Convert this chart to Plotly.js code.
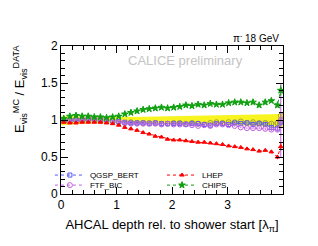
<!DOCTYPE html>
<html><head><meta charset="utf-8">
<script src="https://cdn.plot.ly/plotly-3.0.1.min.js"></script>
<style>html,body{margin:0;padding:0;background:#fff;}#chart{width:318px;height:246px;}</style>
</head><body><div id="chart"></div>
<script>
const depth = [0.05,0.16,0.27,0.38,0.49,0.60,0.71,0.82,0.93,1.04,1.15,1.26,1.37,1.48,1.59,1.70,1.81,1.92,2.03,2.14,2.25,2.36,2.47,2.58,2.69,2.80,2.91,3.02,3.13,3.24,3.35,3.46,3.57,3.68,3.79,3.90,3.96];
const qgspBert = [1.00,0.99,1.00,1.00,1.01,1.01,1.00,1.00,0.99,0.98,0.97,0.96,0.96,0.96,0.95,0.96,0.95,0.95,0.95,0.95,0.94,0.95,0.95,0.94,0.93,0.95,0.95,0.94,0.96,0.95,0.96,0.94,0.95,0.94,0.90,0.89,0.97];
const ftfBic = [0.99,1.00,1.01,1.01,1.02,1.02,1.02,1.01,0.99,0.97,0.96,0.95,0.95,0.95,0.95,0.95,0.94,0.95,0.94,0.94,0.94,0.93,0.92,0.93,0.92,0.94,0.94,0.93,0.92,0.90,0.89,0.89,0.89,0.88,0.87,0.87,1.00];
const lhep = [0.97,0.96,0.96,0.97,0.97,0.97,0.97,0.96,0.95,0.93,0.90,0.88,0.86,0.83,0.81,0.78,0.77,0.74,0.73,0.73,0.72,0.71,0.70,0.70,0.69,0.68,0.67,0.65,0.64,0.63,0.61,0.60,0.58,0.59,0.57,0.50,0.64];
const chips = [1.02,1.05,1.06,1.05,1.05,1.04,1.04,1.03,1.04,1.05,1.08,1.10,1.12,1.14,1.15,1.16,1.17,1.16,1.17,1.18,1.20,1.19,1.21,1.20,1.22,1.21,1.21,1.23,1.24,1.24,1.23,1.24,1.20,1.24,1.26,1.20,1.40];
const other = [1.00,1.00,1.00,0.99,1.00,1.00,0.99,0.99,0.98,0.97,0.96,0.97,0.96,0.96,0.96,0.96,0.95,0.95,0.96,0.96,0.95,0.96,0.95,0.94,0.96,0.97,0.96,0.97,0.97,0.98,0.96,0.97,0.96,0.96,0.95,0.96,1.06];
const errSmall = [0.01,0.01,0.01,0.01,0.01,0.01,0.01,0.01,0.01,0.01,0.01,0.01,0.01,0.01,0.01,0.01,0.01,0.01,0.01,0.01,0.01,0.01,0.01,0.01,0.01,0.01,0.01,0.01,0.01,0.01,0.01,0.015,0.015,0.02,0.02,0.03,0.05];
const errFtf = [0.01,0.01,0.01,0.01,0.01,0.01,0.01,0.01,0.01,0.01,0.01,0.01,0.01,0.01,0.01,0.01,0.01,0.01,0.01,0.01,0.01,0.01,0.01,0.01,0.01,0.01,0.01,0.01,0.01,0.01,0.01,0.015,0.015,0.02,0.02,0.03,0.5];
const errChips = [0.01,0.01,0.01,0.01,0.01,0.01,0.01,0.01,0.01,0.01,0.01,0.01,0.01,0.01,0.01,0.01,0.01,0.01,0.01,0.01,0.01,0.01,0.01,0.01,0.01,0.01,0.01,0.01,0.01,0.01,0.01,0.015,0.02,0.03,0.02,0.03,0.07];
const bandX = [0.0,0.5,1.0,1.5,2.0,2.5,3.0,3.5,4.0];
const bandLow = [0.93,0.955,0.965,0.96,0.955,0.95,0.94,0.92,0.90];
const bandHigh = [1.05,1.04,1.04,1.045,1.05,1.055,1.06,1.07,1.08];

const font = "Liberation Sans, Arial, sans-serif";
function ser(name, y, err, color, symbol, size, legend, show) {
  return {x: depth, y: y, name: name, type: 'scatter', mode: 'lines+markers',
    line: {color: color, width: 1, dash: 'dot'},
    marker: {color: color, symbol: symbol, size: size, line: {color: color, width: 1}},
    error_y: {type: 'data', array: err, visible: true, color: color, thickness: 1, width: 0},
    legend: legend, showlegend: show};
}
const traces = [
  {x: bandX, y: bandLow, mode: 'lines', line: {width: 0, color: '#ffff00'}, showlegend: false, hoverinfo: 'skip'},
  {x: bandX, y: bandHigh, mode: 'lines', line: {width: 0, color: '#ffff00'}, fill: 'tonexty', fillcolor: '#f8f420', showlegend: false, hoverinfo: 'skip'},
  ser('other', other, errSmall, '#a0a040', 'circle-open', 5, 'legend', false),
  ser('QGSP_BERT', qgspBert, errSmall, '#5555ff', 'square-open', 4, 'legend', true),
  ser('FTF_BIC', ftfBic, errFtf, '#c060e0', 'circle-open', 5, 'legend2', true),
  ser('LHEP', lhep, errSmall, '#ff0000', 'triangle-up', 4, 'legend3', true),
  ser('CHIPS', chips, errChips, '#10a010', 'star', 5, 'legend4', true)
];
const axisCommon = {showline: true, linecolor: '#000', linewidth: 1, mirror: 'ticks', ticks: 'inside',
  ticklen: 7, tickcolor: '#000', showgrid: false, zeroline: false,
  tickfont: {family: font, size: 12, color: '#000'}};
function leg(x, y) {
  return {x: x, y: y, xanchor: 'left', yanchor: 'middle', bgcolor: 'rgba(0,0,0,0)',
    font: {family: font, size: 8}, itemwidth: 30, traceorder: 'normal'};
}
const layout = {
  width: 318, height: 246,
  margin: {l: 61, r: 35, t: 46, b: 52},
  paper_bgcolor: '#fff', plot_bgcolor: '#fff',
  font: {family: font, color: '#000'},
  xaxis: Object.assign({}, axisCommon, {range: [0, 4], tickvals: [0, 1, 2, 3], ticktext: ['0', '1', '2', '3'],
    minor: {dtick: 0.2, ticklen: 4, ticks: 'inside', tickcolor: '#000'},
    title: {text: 'AHCAL depth rel. to shower start [λ<sub>π</sub>]', font: {family: font, size: 13}, standoff: 8}}),
  yaxis: Object.assign({}, axisCommon, {range: [0, 2], tickvals: [0, 0.5, 1, 1.5, 2], ticktext: ['0', '0.5', '1', '1.5', '2'],
    minor: {dtick: 0.1, ticklen: 4, ticks: 'inside', tickcolor: '#000'}}),
  legend: leg(-0.05, 0.128),
  legend2: leg(-0.05, 0.06),
  legend3: leg(0.455, 0.128),
  legend4: leg(0.455, 0.06),
  annotations: [
    {text: 'E<sub>vis</sub><sup>MC</sup> / E<sub>vis</sub><sup>DATA</sup>', xref: 'paper', yref: 'paper',
      x: -0.185, y: 1.02, xanchor: 'center', yanchor: 'top', textangle: -90, showarrow: false,
      font: {family: font, size: 13, color: '#000'}},
    {text: 'CALICE preliminary', xref: 'paper', yref: 'paper', x: 0.56, y: 0.905, xanchor: 'center', yanchor: 'middle', showarrow: false,
      font: {family: font, size: 13, color: '#c4c4c4'}},
    {text: 'π<sup>-</sup> 18 GeV', xref: 'paper', yref: 'paper', x: 0.99, y: 1.0, xanchor: 'right', yanchor: 'bottom',
      showarrow: false, font: {family: font, size: 10, color: '#000'}}
  ]
};
Plotly.newPlot('chart', traces, layout, {displayModeBar: false, staticPlot: true});
</script></body></html>
